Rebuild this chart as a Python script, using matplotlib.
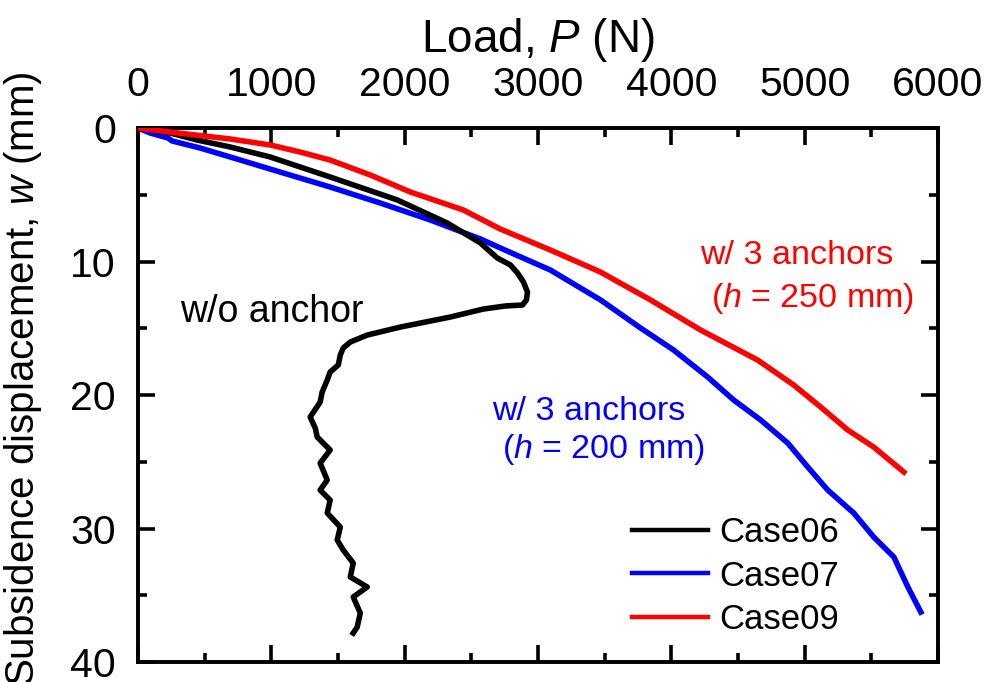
import matplotlib
matplotlib.use("Agg")
import matplotlib.pyplot as plt

plt.rcParams["font.family"] = ["Liberation Sans", "DejaVu Sans"]
plt.rcParams["mathtext.fontset"] = "custom"
plt.rcParams["mathtext.rm"] = "Liberation Sans"
plt.rcParams["mathtext.it"] = "Liberation Sans:italic"

# Case06: no anchor
p06 = [0, 240, 443, 691, 991, 1441, 1945, 2320, 2568, 2695, 2793, 2846, 2891,
       2921, 2913, 2883, 2755, 2590, 2342, 1967, 1719, 1592, 1539, 1517, 1502,
       1441, 1419, 1381, 1366, 1291, 1329, 1344, 1441, 1366, 1419, 1366, 1441,
       1419, 1517, 1494, 1539, 1614, 1592, 1719, 1614, 1667, 1644, 1614]
w06 = [0, 0.37, 0.90, 1.42, 2.17, 3.67, 5.39, 7.12, 8.61, 9.74, 10.26, 10.86,
       11.54, 12.29, 12.88, 13.26, 13.33, 13.56, 14.16, 14.91, 15.51, 16.03,
       16.48, 17.00, 17.75, 18.28, 18.88, 19.78, 20.53, 21.65, 22.47, 23.15,
       24.12, 25.10, 26.37, 27.12, 27.87, 28.84, 29.89, 30.86, 31.61, 32.59,
       33.63, 34.38, 35.13, 36.33, 37.38, 37.83]

# Case07: 3 anchors, h = 200 mm
p07 = [0, 90, 225, 255, 466, 691, 1066, 1441, 1817, 2192, 2568, 2718, 3093,
       3469, 3769, 4017, 4272, 4467, 4670, 4873, 5023, 5173, 5368, 5518, 5669,
       5774, 5871]
w07 = [0, 0.37, 0.75, 0.97, 1.50, 2.17, 3.30, 4.42, 5.62, 6.89, 8.31, 8.99,
       10.64, 12.88, 14.98, 16.63, 18.65, 20.37, 21.87, 23.60, 25.39, 27.12,
       28.84, 30.64, 32.14, 34.38, 36.26]

# Case09: 3 anchors, h = 250 mm
p09 = [0, 240, 428, 691, 991, 1216, 1441, 1742, 2042, 2440, 2718, 3093, 3469,
       3844, 4219, 4647, 4918, 5120, 5323, 5518, 5744]
w09 = [0, 0.30, 0.52, 0.82, 1.27, 1.80, 2.40, 3.52, 4.79, 6.14, 7.57, 9.14,
       10.79, 12.88, 15.13, 17.38, 19.25, 20.90, 22.62, 23.90, 25.77]

labels = ["Case06", "Case07", "Case09"]
colors = ["#000000", "#0000ff", "#ff0000"]

fig = plt.figure(figsize=(9.88, 6.82), dpi=100)
ax = fig.add_axes([0.1397, 0.0293, 0.8097, 0.7830])

lw = 4.0
ax.plot(p06, w06, color=colors[0], lw=lw, label=labels[0], zorder=3,
        solid_joinstyle="round")
ax.plot(p07, w07, color=colors[1], lw=lw, label=labels[1], zorder=2,
        solid_joinstyle="round")
ax.plot(p09, w09, color=colors[2], lw=lw, label=labels[2], zorder=4,
        solid_joinstyle="round")

ax.set_xlim(0, 6000)
ax.set_ylim(40, 0)
ax.set_xticks(range(0, 6001, 1000))
ax.set_xticks(range(500, 6000, 1000), minor=True)
ax.set_yticks(range(0, 41, 10))
ax.set_yticks(range(5, 40, 10), minor=True)

ax.xaxis.set_label_position("top")
ax.tick_params(which="both", direction="in", top=True, bottom=True,
               left=True, right=True, labeltop=True, labelbottom=False,
               width=2.6, labelsize=29.5)
ax.tick_params(axis="x", which="both", pad=17.5)
ax.tick_params(axis="y", which="both", pad=16)
ax.tick_params(which="major", length=12)
ax.tick_params(which="minor", length=6.5)
for s in ax.spines.values():
    s.set_linewidth(2.8)

ax.set_xlabel("Load, $P$ (N)", fontsize=33, labelpad=10)
ax.set_ylabel("Subsidence displacement, $w$ (mm)", fontsize=29)
ax.yaxis.set_label_coords(-0.118, 0.53)

ax.text(315, 14.5, "w/o anchor", fontsize=27, color="black", ha="left",
        va="baseline")
ax.text(4219, 10.2, "w/ 3 anchors", fontsize=24.5, color="#ff0000",
        ha="left", va="baseline")
ax.text(4295, 13.4, "($h$ = 250 mm)", fontsize=24.5, color="#ff0000",
        ha="left", va="baseline")
ax.text(2658, 21.9, "w/ 3 anchors", fontsize=24.5, color="#0000ff",
        ha="left", va="baseline")
ax.text(2733, 24.7, "($h$ = 200 mm)", fontsize=24.5, color="#0000ff",
        ha="left", va="baseline")

leg = ax.legend(loc="center left", bbox_to_anchor=(0.6175, 0.161),
                frameon=False, fontsize=25, handlelength=2.2,
                handletextpad=0.3, labelspacing=0.3, borderpad=0,
                borderaxespad=0)
for line in leg.get_lines():
    line.set_linewidth(3.2)

fig.savefig("out.png", dpi=100)
